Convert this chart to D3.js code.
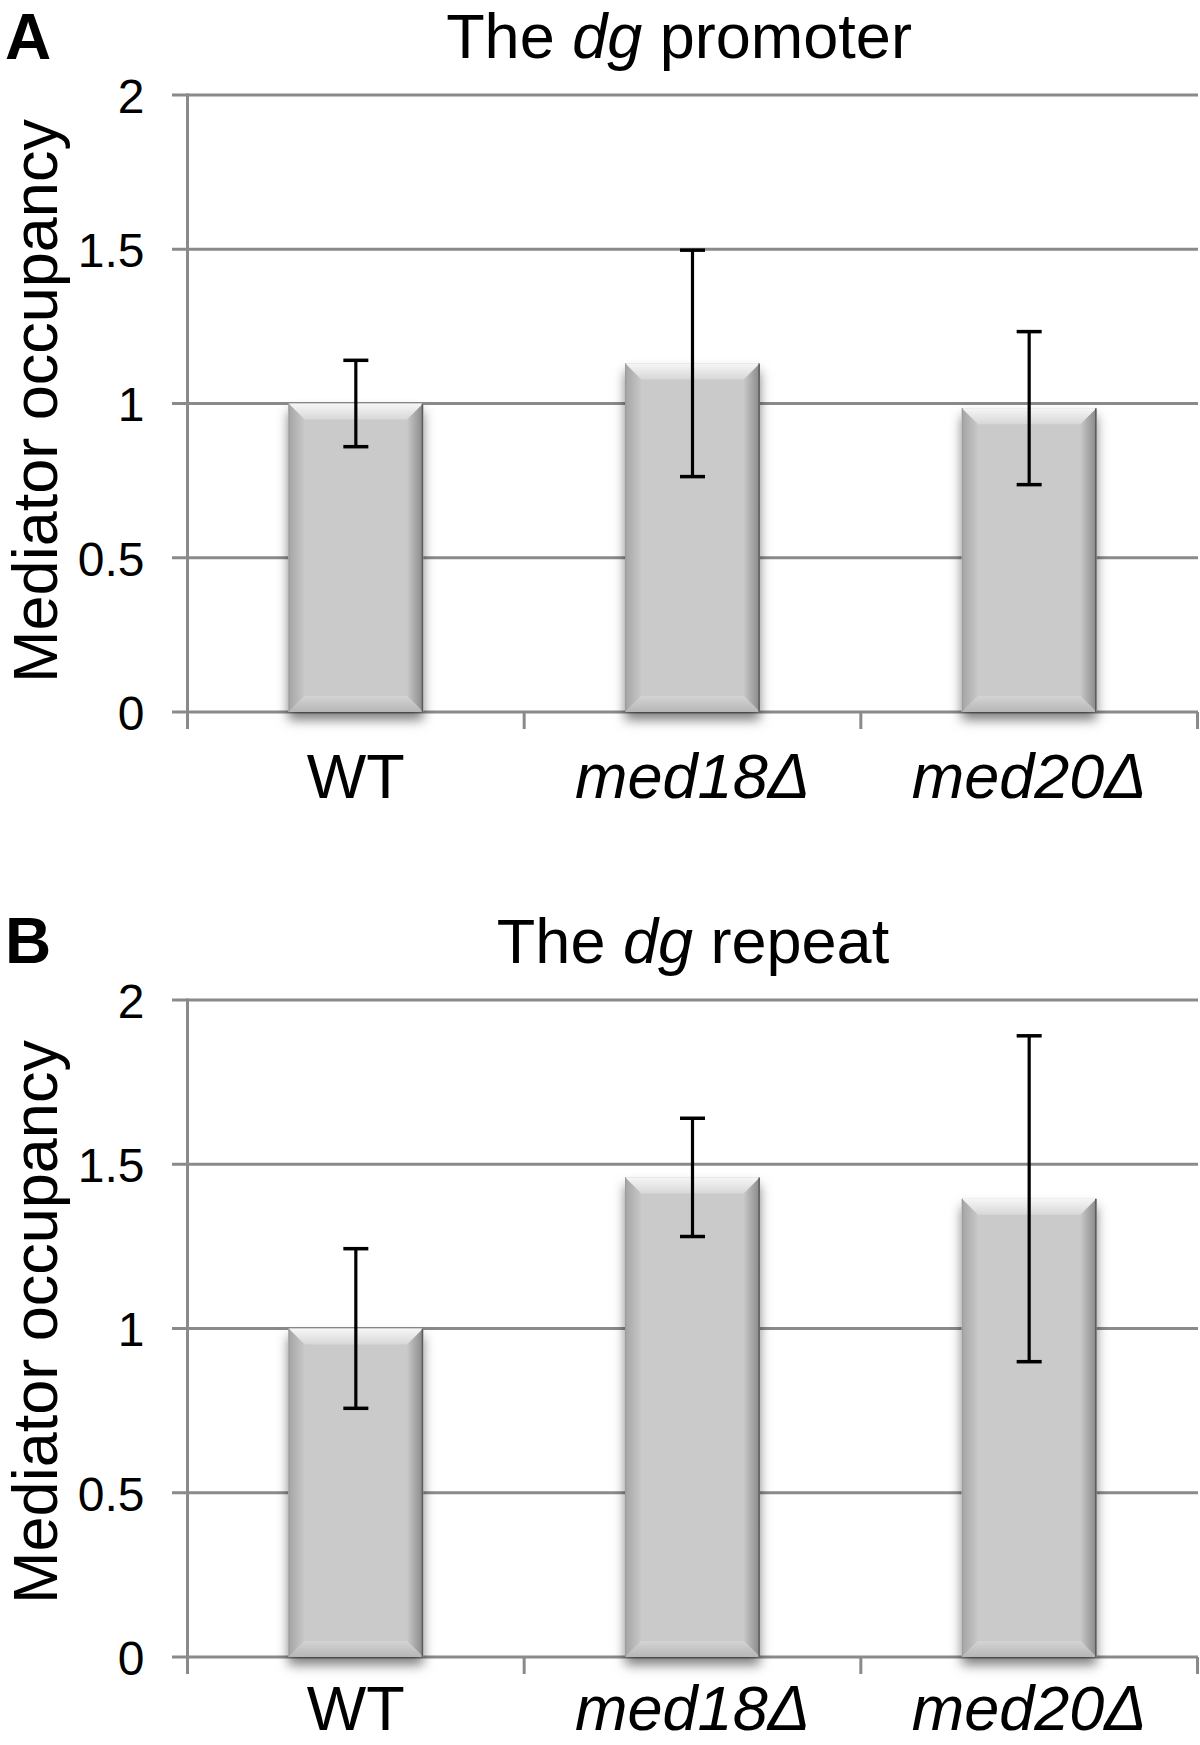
<!DOCTYPE html>
<html><head><meta charset="utf-8">
<script src="https://cdn.jsdelivr.net/npm/d3@7"></script>
<style>
body{margin:0;background:#fff}
svg{display:block}
text{font-family:"Liberation Sans",Arial,Helvetica,sans-serif;fill:#000}
</style>
</head><body><svg id="c" width="1200" height="1745"></svg>
<script>
// ---- data ----
const categories = ["WT", "med18Δ", "med20Δ"];
const italicCategory = [false, true, true];
const promoterValues = [1.0, 1.13, 0.985];
const promoterErrors = [0.14, 0.367, 0.248];
const repeatValues = [1.0, 1.46, 1.395];
const repeatErrors = [0.243, 0.18, 0.496];
const yTicks = [0, 0.5, 1, 1.5, 2];
const yTickLabels = ["0", "0.5", "1", "1.5", "2"];
const panelLetters = ["A", "B"];
const panelTitles = [["The ", "dg", " promoter"], ["The ", "dg", " repeat"]];
const yLabel = "Mediator occupancy";

// ---- layout ----
const panels = [
  {values: promoterValues, errors: promoterErrors, top: 95, bottom: 712, titleX: 679, titleY: 58, letterY: 59, catY: 798, labelY: 401},
  {values: repeatValues, errors: repeatErrors, top: 1000, bottom: 1657, titleX: 693, titleY: 963, letterY: 963, catY: 1730, labelY: 1322}
];
const axisX = 187.5, plotRight = 1197.5, gridLeft = 172, gridRight = 1198;
const gridColor = "#8a8a8a";

const svg = d3.select("#c");
const defs = svg.append("defs");

function grad(id, x2, y2, stops) {
  const g = defs.append("linearGradient").attr("id", id)
    .attr("x1", 0).attr("y1", 0).attr("x2", x2).attr("y2", y2);
  stops.forEach(([o, c]) => g.append("stop").attr("offset", o).attr("stop-color", c));
}
grad("gTop", 0, 1, [[0, "#f6f6f6"], [1, "#d8d8d8"]]);
grad("gLeft", 1, 0, [[0, "#a4a4a4"], [1, "#c8c8c8"]]);
grad("gRight", 1, 0, [[0, "#c8c8c8"], [1, "#888888"]]);
grad("gBot", 0, 1, [[0, "#d4d4d4"], [1, "#b6b6b6"]]);

const f = defs.append("filter").attr("id", "shadow")
  .attr("x", "-20%").attr("y", "-10%").attr("width", "140%").attr("height", "125%");
f.append("feDropShadow").attr("dx", 0).attr("dy", 8).attr("stdDeviation", 6)
  .attr("flood-color", "#000").attr("flood-opacity", 0.5);

const x = d3.scaleBand().domain(categories).range([axisX, plotRight])
  .paddingInner(0.6).paddingOuter(0.3);

panels.forEach((p, pi) => {
  const y = d3.scaleLinear().domain([0, 2]).range([p.bottom, p.top]);
  const g = svg.append("g");

  // gridlines
  g.selectAll("line.grid").data(yTicks).join("line")
    .attr("x1", gridLeft).attr("x2", gridRight)
    .attr("y1", d => y(d)).attr("y2", d => y(d))
    .attr("stroke", gridColor).attr("stroke-width", 3);

  // y axis line
  g.append("line").attr("x1", axisX).attr("x2", axisX)
    .attr("y1", y(2) - 1.5).attr("y2", p.bottom + 17)
    .attr("stroke", gridColor).attr("stroke-width", 3);

  // category boundary ticks
  const bounds = [axisX].concat(categories.map(c => x(c) + x.bandwidth() + x.step() * x.paddingOuter()));
  g.selectAll("line.ct").data(bounds).join("line")
    .attr("x1", d => d).attr("x2", d => d)
    .attr("y1", p.bottom).attr("y2", p.bottom + 17)
    .attr("stroke", gridColor).attr("stroke-width", 3);

  // y tick labels via axis
  const ax = d3.axisLeft(y).tickValues(yTicks).tickSize(0).tickPadding(43)
    .tickFormat((d, i) => yTickLabels[i]);
  const axg = g.append("g").attr("transform", `translate(${axisX},0)`).call(ax);
  axg.select(".domain").remove();
  axg.selectAll("text").attr("font-size", 48)
    .attr("font-family", '"Liberation Sans",Arial,Helvetica,sans-serif')
    .attr("fill", "#000").attr("dy", "0.36em");

  // bars
  const b = 16;
  categories.forEach((c, i) => {
    const v = p.values[i];
    const x0 = x(c), w = x.bandwidth(), y0 = y(v), h = y(0) - y(v);
    const bg = g.append("g").attr("class", "bar");
    bg.append("rect").attr("x", x0).attr("y", y0).attr("width", w).attr("height", h)
      .attr("fill", "#cacaca").attr("filter", "url(#shadow)");
    const poly = (pts, fill) => bg.append("polygon")
      .attr("points", pts.map(q => q.join(",")).join(" ")).attr("fill", fill);
    poly([[x0, y0], [x0 + w, y0], [x0 + w - b, y0 + b], [x0 + b, y0 + b]], "url(#gTop)");
    poly([[x0, y0], [x0 + b, y0 + b], [x0 + b, y0 + h - b], [x0, y0 + h]], "url(#gLeft)");
    poly([[x0 + w, y0], [x0 + w, y0 + h], [x0 + w - b, y0 + h - b], [x0 + w - b, y0 + b]], "url(#gRight)");
    poly([[x0, y0 + h], [x0 + w, y0 + h], [x0 + w - b, y0 + h - b], [x0 + b, y0 + h - b]], "url(#gBot)");
    bg.append("line").attr("x1", x0 + w - 0.75).attr("x2", x0 + w - 0.75)
      .attr("y1", y0).attr("y2", y0 + h).attr("stroke", "#5c5c5c").attr("stroke-width", 1.5);
    bg.append("line").attr("x1", x0 + 0.5).attr("x2", x0 + 0.5)
      .attr("y1", y0).attr("y2", y0 + h).attr("stroke", "#9a9a9a").attr("stroke-width", 1);
  });

  // error bars
  const eg = g.append("g");
  categories.forEach((c, i) => {
    const cx = x(c) + x.bandwidth() / 2;
    const hi = y(p.values[i] + p.errors[i]), lo = y(p.values[i] - p.errors[i]);
    eg.append("line").attr("x1", cx).attr("x2", cx).attr("y1", hi).attr("y2", lo)
      .attr("stroke", "#000").attr("stroke-width", 3.2);
    [hi, lo].forEach(yy => eg.append("line").attr("x1", cx - 12.5).attr("x2", cx + 12.5)
      .attr("y1", yy).attr("y2", yy).attr("stroke", "#000").attr("stroke-width", 3.5));
  });

  // category labels
  g.selectAll("text.cat").data(categories).join("text")
    .attr("x", d => x(d) + x.bandwidth() / 2).attr("y", p.catY)
    .attr("text-anchor", "middle").attr("font-size", 63)
    .attr("font-style", (d, i) => italicCategory[i] ? "italic" : "normal")
    .text(d => d);

  // y axis label
  g.append("text").attr("transform", `translate(57,${p.labelY}) rotate(-90)`)
    .attr("text-anchor", "middle").attr("font-size", 63).text(yLabel);

  // title
  const t = g.append("text").attr("x", p.titleX).attr("y", p.titleY)
    .attr("text-anchor", "middle").attr("font-size", 63);
  panelTitles[pi].forEach((s, k) => t.append("tspan")
    .attr("font-style", k === 1 ? "italic" : "normal").text(s));

  // panel letter
  g.append("text").attr("x", 5).attr("y", p.letterY).attr("font-size", 64)
    .attr("font-weight", "bold").text(panelLetters[pi]);
});
</script>
</body></html>
